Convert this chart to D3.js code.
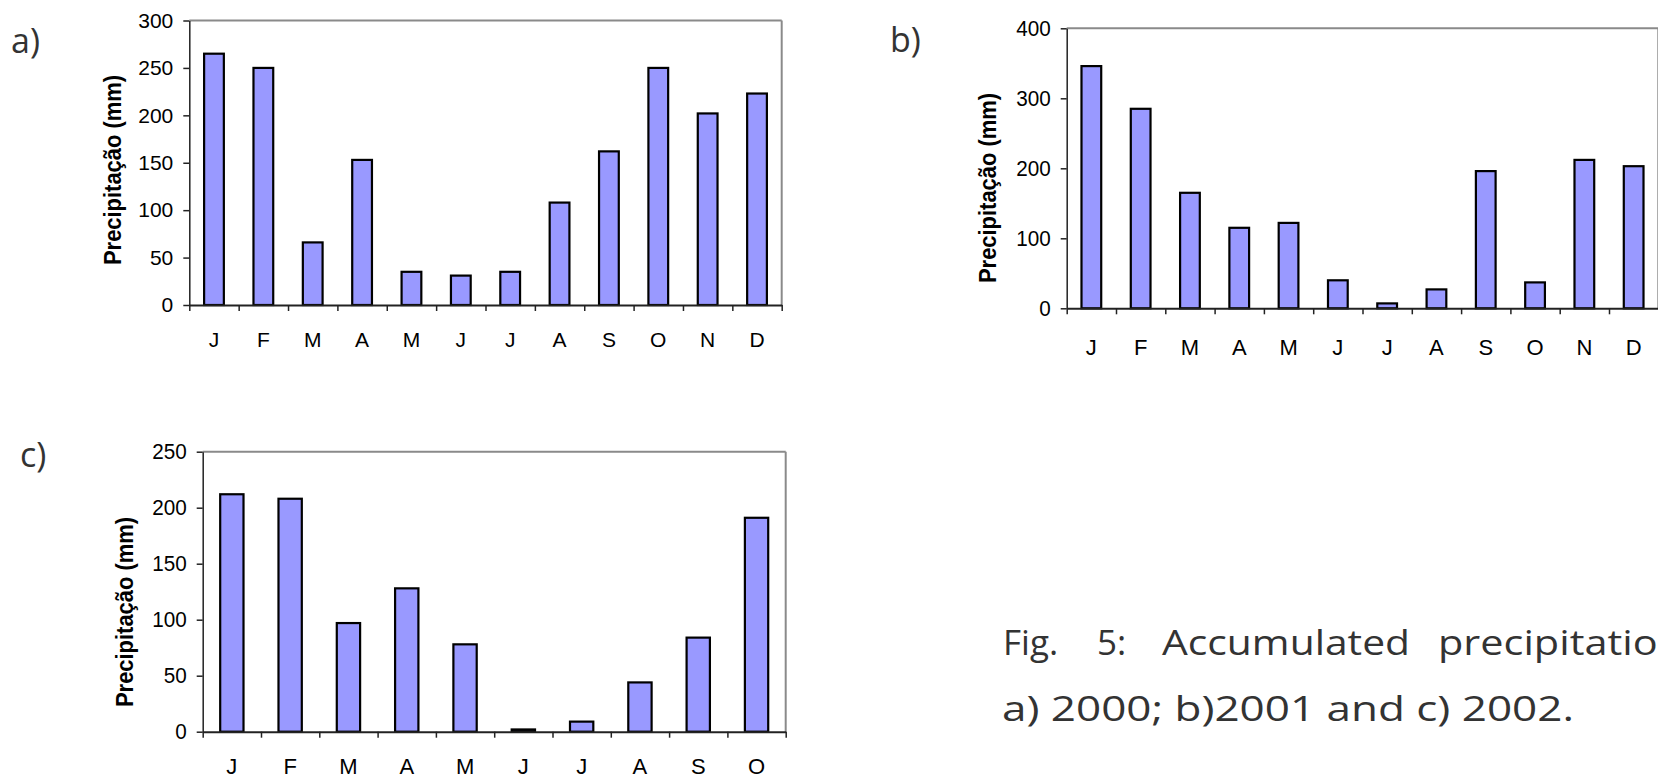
<!DOCTYPE html>
<html>
<head>
<meta charset="utf-8">
<script src="https://cdn.jsdelivr.net/npm/d3@7"></script>
<style>
  html, body { margin: 0; padding: 0; background: #fff; }
  svg { display: block; }
</style>
</head>
<body>
<svg id="chart" width="1658" height="780"></svg>
<script>
// ---- data ----
const monthsFull = ["J","F","M","A","M","J","J","A","S","O","N","D"];
const monthsC = ["J","F","M","A","M","J","J","A","S","O"];
const precip2000 = [265, 250, 66, 153, 35, 31, 35, 108, 162, 250, 202, 223];
const precip2001 = [346, 285, 165, 115, 122, 40, 7, 27, 196, 37, 212, 203];
const precip2002 = [212, 208, 97, 128, 78, 2, 9, 44, 84, 191];
const ticksA = [0, 50, 100, 150, 200, 250, 300];
const ticksB = [0, 100, 200, 300, 400];
const ticksC = [0, 50, 100, 150, 200, 250];
const yTitle = "Precipitação (mm)";
const panelLabels = ["a)", "b)", "c)"];
const captionLine1 = ["Fig.", "5:", "Accumulated", "precipitation"];
const captionLine2 = "a) 2000; b)2001 and c) 2002.";

const svg = d3.select("#chart");
svg.append("rect").attr("width", 1658).attr("height", 780).attr("fill", "#fff");

const panels = [
  { months: monthsFull, values: precip2000, ticks: ticksA,
    left: 189.3, right: 781.7, top: 20.5, bottom: 305,
    tickFont: 21, sx: 1.0, xLabOff: 35, titleX: 112.5, titleY: 170 },
  { months: monthsFull, values: precip2001, ticks: ticksB,
    left: 1066.7, right: 1658.3, top: 28.3, bottom: 308.3,
    tickFont: 22, sx: 0.94, xLabOff: 39, titleX: 988.3, titleY: 188 },
  { months: monthsC, values: precip2002, ticks: ticksC,
    left: 202.7, right: 785.7, top: 451.7, bottom: 731.7,
    tickFont: 22, sx: 0.94, xLabOff: 35, titleX: 125, titleY: 612 }
];

const axisFont = "'Liberation Sans', Arial, sans-serif";

panels.forEach(p => {
  const n = p.months.length;
  const g = svg.append("g");
  const y = d3.scaleLinear()
    .domain([0, d3.max(p.ticks)])
    .range([p.bottom, p.top]);
  const x = d3.scaleBand()
    .domain(d3.range(n))
    .range([p.left, p.right])
    .paddingInner(0.6)
    .paddingOuter(0.3);
  const xEdge = d3.scaleLinear().domain([0, n]).range([p.left, p.right]);

  // plot frame (top + right gray)
  g.append("line").attr("x1", p.left).attr("x2", p.right)
    .attr("y1", p.top).attr("y2", p.top)
    .attr("stroke", "#8a8a8a").attr("stroke-width", 2);
  g.append("line").attr("x1", p.right).attr("x2", p.right)
    .attr("y1", p.top).attr("y2", p.bottom)
    .attr("stroke", "#8a8a8a").attr("stroke-width", 2);

  // bars
  g.selectAll("rect.bar").data(p.values).join("rect")
    .attr("class", "bar")
    .attr("x", (d, i) => x(i))
    .attr("width", x.bandwidth())
    .attr("y", d => y(d))
    .attr("height", d => y(0) - y(d))
    .attr("fill", "#9999ff")
    .attr("stroke", "#000")
    .attr("stroke-width", 2.2);

  // y axis
  const ya = g.append("g")
    .attr("transform", `translate(${p.left},0)`)
    .call(d3.axisLeft(y).tickValues(p.ticks).tickSize(6).tickPadding(10).tickSizeOuter(0));
  ya.select(".domain").attr("stroke", "#222").attr("stroke-width", 1.5);
  ya.selectAll(".tick line").attr("stroke", "#222").attr("stroke-width", 1.5);
  ya.selectAll(".tick text")
    .attr("font-family", axisFont)
    .attr("font-size", p.tickFont).attr("fill", "#000")
    .attr("transform", function () {
      const x0 = +d3.select(this).attr("x");
      return `translate(${x0},0) scale(${p.sx},1) translate(${-x0},0)`;
    });

  // x axis boundary ticks
  const xa = g.append("g")
    .attr("transform", `translate(0,${p.bottom})`)
    .call(d3.axisBottom(xEdge).tickValues(d3.range(n + 1)).tickSize(6).tickSizeOuter(0).tickFormat(""));
  xa.select(".domain").attr("stroke", "#222").attr("stroke-width", 2);
  xa.selectAll(".tick line").attr("stroke", "#222").attr("stroke-width", 1.5);

  // x labels
  const xl = g.append("g")
    .attr("transform", `translate(0,${p.bottom})`)
    .call(d3.axisBottom(x).tickSize(0).tickPadding(p.xLabOff - 8).tickFormat(i => p.months[i]));
  xl.select(".domain").remove();
  xl.selectAll(".tick text")
    .attr("font-family", axisFont)
    .attr("font-size", p.tickFont).attr("fill", "#000");

  // y title
  g.append("text")
    .attr("transform", `translate(${p.titleX},${p.titleY}) rotate(-90)`)
    .attr("text-anchor", "middle")
    .attr("dominant-baseline", "central")
    .attr("font-family", axisFont)
    .attr("font-weight", "bold")
    .attr("font-size", 23)
    .attr("textLength", 190)
    .attr("lengthAdjust", "spacingAndGlyphs")
    .attr("fill", "#000")
    .text(yTitle);
});

// panel labels
const labelPos = [[11, 53], [890, 52], [20, 467]];
panelLabels.forEach((t, i) => {
  svg.append("text")
    .attr("x", labelPos[i][0]).attr("y", labelPos[i][1])
    .attr("font-family", "'Open Sans', 'Noto Sans', sans-serif")
    .attr("font-size", 34).attr("fill", "#333")
    .text(t);
});

// caption
const capFont = "'Open Sans', 'Noto Sans', sans-serif";
const wordX = [1003, 1097, 1162, 1438];
const wordLen = [null, null, 248, 245];
captionLine1.forEach((w, i) => {
  const t = svg.append("text")
    .attr("x", wordX[i]).attr("y", 655)
    .attr("font-family", capFont).attr("font-size", 35).attr("fill", "#333")
    .text(w);
  if (wordLen[i]) t.attr("textLength", wordLen[i]).attr("lengthAdjust", "spacingAndGlyphs");
});
svg.append("text")
  .attr("x", 1002).attr("y", 721)
  .attr("font-family", capFont).attr("font-size", 35).attr("fill", "#333")
  .attr("textLength", 572).attr("lengthAdjust", "spacingAndGlyphs")
  .text(captionLine2);
</script>
</body>
</html>
